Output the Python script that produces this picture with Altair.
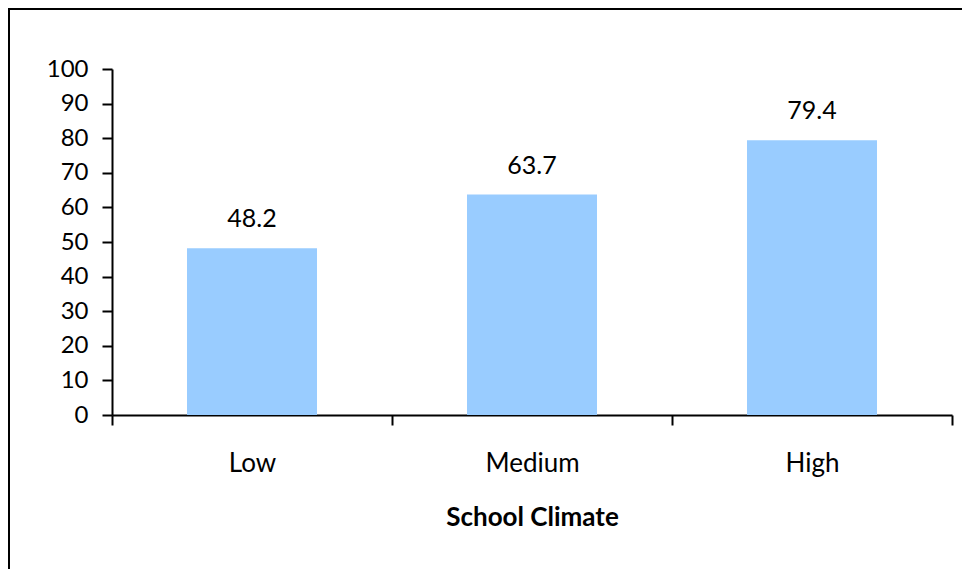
import altair as alt
import pandas as pd

categories = ["Low", "Medium", "High"]
values = [48.2, 63.7, 79.4]
y_ticks = [0, 10, 20, 30, 40, 50, 60, 70, 80, 90, 100]

df = pd.DataFrame({"climate": categories, "value": values})

FONT = "Lato"
W, H = 840, 346
PAD = {"left": 104, "top": 61, "right": 10, "bottom": 154}

x = alt.X(
    "climate:N",
    sort=categories,
    scale=alt.Scale(paddingInner=0, paddingOuter=0),
    axis=alt.Axis(
        title="School Climate",
        tickBand="extent",
        tickSize=10,
        tickWidth=2,
        tickColor="black",
        domainColor="black",
        domainWidth=2,
        labelAngle=0,
        labelFont=FONT,
        labelFontSize=26,
        labelColor="black",
        labelBaseline="alphabetic",
        labelPadding=46,
        titleFont=FONT,
        titleFontSize=26,
        titleFontWeight="bold",
        titleColor="black",
        titleBaseline="alphabetic",
        titleY=110,
    ),
)
y = alt.Y(
    "value:Q",
    scale=alt.Scale(domain=[0, 100], nice=False),
    axis=alt.Axis(
        title=None,
        values=y_ticks,
        grid=False,
        tickSize=10,
        tickWidth=2,
        tickColor="black",
        domainColor="black",
        domainWidth=2,
        labelFont=FONT,
        labelFontSize=24,
        labelColor="black",
        labelPadding=14,
    ),
)

bars = alt.Chart(df).mark_bar(color="#99CCFF", width=130).encode(x=x, y=y)
labels = alt.Chart(df).mark_text(
    font=FONT, fontSize=25, color="black", baseline="alphabetic", dy=-21
).encode(x=x, y=y, text=alt.Text("value:Q", format=".1f"))

border = alt.Data(values=[{}])
left_line = alt.Chart(border).mark_rule(color="black", strokeWidth=2).encode(
    x=alt.value(-103), y=alt.value(-60), y2=alt.value(H + PAD["bottom"] + 20)
)
top_line = alt.Chart(border).mark_rule(color="black", strokeWidth=2).encode(
    x=alt.value(-104), x2=alt.value(W + PAD["right"] + 20), y=alt.value(-60)
)

chart = (
    alt.layer(bars, labels, left_line, top_line)
    .properties(width=W, height=H, padding=PAD, autosize=alt.AutoSizeParams(type="none"),
                background="white")
    .configure_view(stroke=None)
)

chart.save("out.html", embed_options={"renderer": "svg", "actions": False})
